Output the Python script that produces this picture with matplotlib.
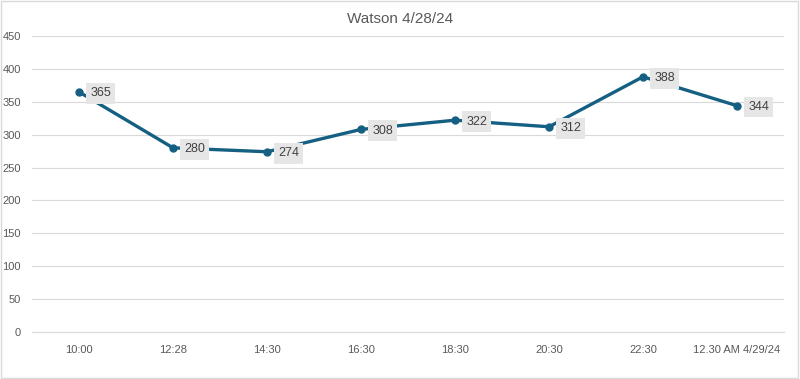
import matplotlib
matplotlib.use("Agg")
import matplotlib.pyplot as plt
from matplotlib.patches import Rectangle

categories = ["10:00", "12:28", "14:30", "16:30", "18:30", "20:30", "22:30", "12.30 AM 4/29/24"]
values = [365, 280, 274, 308, 322, 312, 388, 344]
yticks = [0, 50, 100, 150, 200, 250, 300, 350, 400, 450]

plt.rcParams['font.family'] = ['Liberation Sans', 'DejaVu Sans']

fig = plt.figure(figsize=(8, 3.79), dpi=100)
fig.patch.set_facecolor('white')
fig.add_artist(Rectangle((0.001, 0.002), 0.997, 0.995, transform=fig.transFigure,
                         fill=False, edgecolor='#d9d9d9', linewidth=1))
ax = fig.add_axes([0.04, 0.124, 0.94, 0.781])

x = list(range(len(categories)))
line_color = '#156082'
ax.plot(x, values, color=line_color, linewidth=2.4, marker='o', markersize=5, zorder=3)

for xi, v in zip(x, values):
    ax.annotate(str(v), (xi, v), xytext=(8, -1), textcoords='offset points',
                ha='left', va='center', fontsize=9, color='#404040',
                bbox=dict(boxstyle='square,pad=0.35', facecolor='#e6e6e6', edgecolor='none'),
                zorder=4)

ax.set_xlim(-0.5, len(categories) - 0.5)
ax.set_ylim(0, 450)
ax.set_yticks(yticks)
ax.set_xticks(x)
ax.set_xticklabels(categories)
ax.grid(axis='y', color='#d9d9d9', linewidth=0.8)
ax.set_axisbelow(True)
for s in ['top', 'right', 'left']:
    ax.spines[s].set_visible(False)
ax.spines['bottom'].set_color('#d9d9d9')
ax.tick_params(axis='both', length=0, labelsize=8, labelcolor='#595959')
ax.tick_params(axis='x', pad=9)
ax.tick_params(axis='y', pad=8)

fig.text(0.5, 0.95, "Watson 4/28/24", ha='center', va='center', fontsize=11, color='#595959')

fig.savefig("out.png", dpi=100, facecolor='white')
